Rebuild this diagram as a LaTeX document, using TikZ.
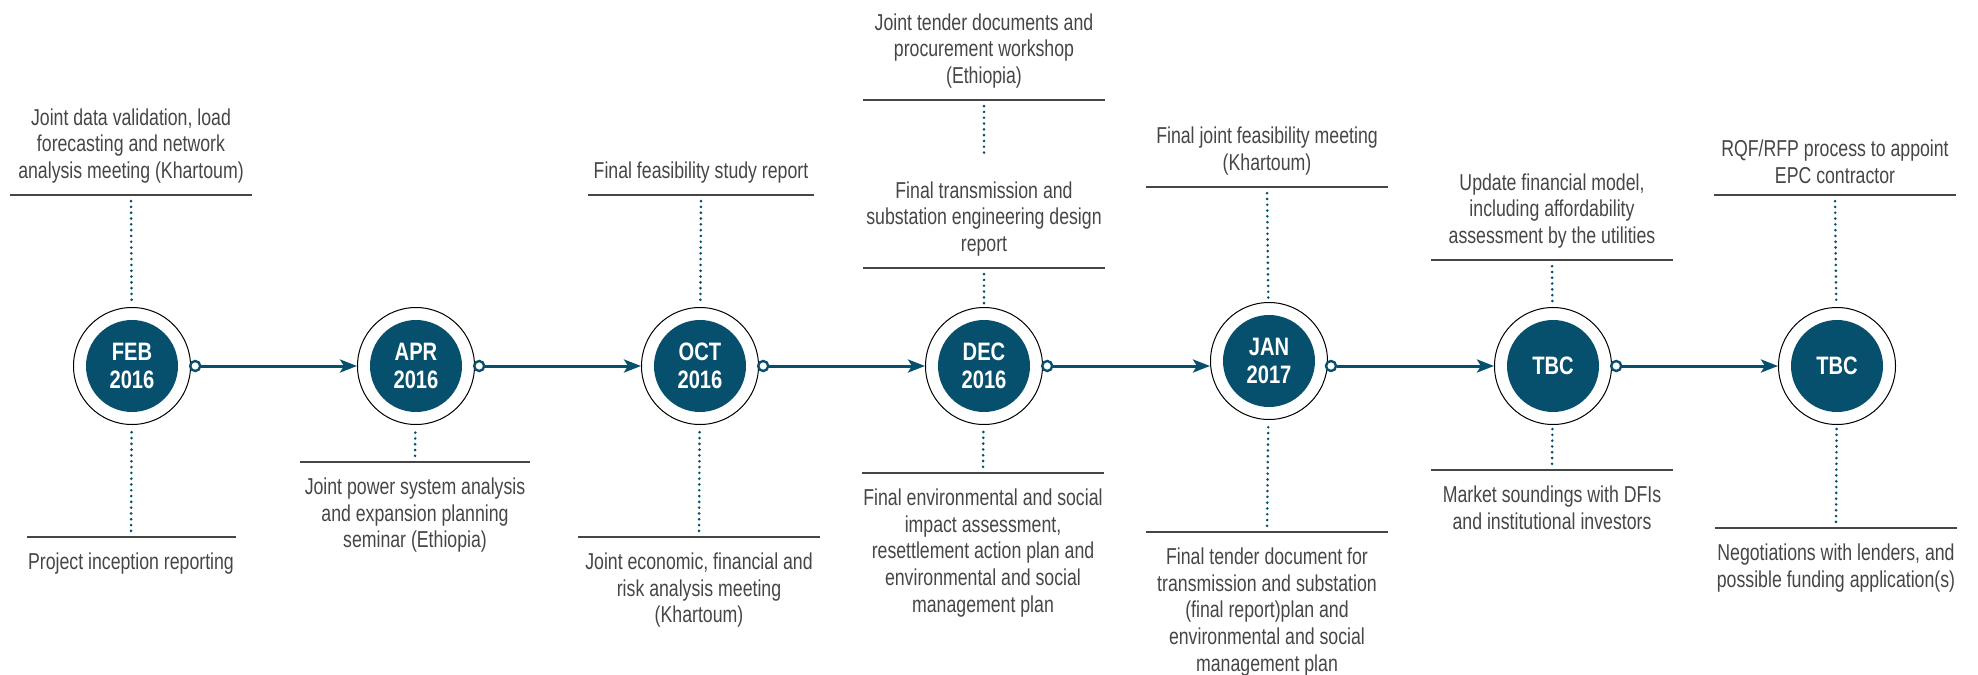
\documentclass[tikz,border=0pt]{standalone}
\usepackage{fontspec}
\setmainfont{Liberation Sans}[FakeStretch=0.77]
\newfontfamily\datefamily{Liberation Sans}[FakeStretch=0.8]
\usetikzlibrary{positioning, arrows.meta}
\definecolor{petrol}{RGB}{6,80,109}
\definecolor{textgray}{RGB}{70,70,70}
\definecolor{rulegray}{RGB}{70,70,70}
\newcommand\labelfont{\fontsize{11.5}{13.4}\selectfont}
\newcommand\datefont{\datefamily\bfseries\fontsize{12.6}{13.9}\selectfont}

\begin{document}
\begin{tikzpicture}[x=0.5pt, y=-0.5pt,
    date/.style={circle,
        draw=black,
        line width=0.5pt,
        fill=white,
        minimum size=58.5pt,
        inner sep=0pt,
        align=center,
        text=white,
        font=\datefont,
        path picture={\fill[petrol] (path picture bounding box.center) circle (23pt);}
        },
    start_dot/.style={circle,
        draw=petrol,
        fill=white,
        line width=1.2pt,
        minimum size=5pt,
        inner sep=0pt,
        },
    flow/.style={petrol,
        line width=1.5pt,
        -{Stealth[length=8.5pt, width=6.5pt, inset=2pt]},
        },
    bar/.style={rectangle,
        fill=rulegray,
        minimum width=121pt,
        minimum height=0.75pt,
        inner sep=0pt,
        },
    txt/.style={align=center,
        inner sep=0pt,
        text=textgray,
        font=\labelfont,
        },
    dots/.style={petrol,
        line width=1.45pt,
        line cap=round,
        dash pattern=on 0pt off 2.9pt,
        shorten <=2.5pt,
        shorten >=1pt,
        },
    ]
    \useasboundingbox (0,0) rectangle (1978,675);

    % milestones
    \node[date] (n_feb) at (132,366) {FEB\\2016};
    \node[date] (n_apr) at (416,366) {APR\\2016};
    \node[date] (n_oct) at (700,366) {OCT\\2016};
    \node[date] (n_dec) at (984,366) {DEC\\2016};
    \node[date] (n_jan) at (1269,361) {JAN\\2017};
    \node[date] (n_tbc1) at (1553,366) {TBC};
    \node[date] (n_tbc2) at (1837,366) {TBC};

    \node[start_dot, right=-1pt of n_feb] (d_feb) {};
    \node[start_dot, right=-1pt of n_apr] (d_apr) {};
    \node[start_dot, right=-1pt of n_oct] (d_oct) {};
    \node[start_dot, right=-1pt of n_dec] (d_dec) {};
    \node[start_dot] (d_jan) at (1331,366) {};
    \node[start_dot, right=-1pt of n_tbc1] (d_tbc1) {};

    \draw[flow] (d_feb) -- (n_apr);
    \draw[flow] (d_apr) -- (n_oct);
    \draw[flow] (d_oct) -- (n_dec);
    \draw[flow] (d_dec) -- (n_jan.west |- d_dec);
    \draw[flow] (d_jan) -- (n_tbc1);
    \draw[flow] (d_tbc1) -- (n_tbc2);

    % rules above
    \node[bar] (r_feb_t) at (131,195) {};
    \node[bar, minimum width=113pt] (r_oct_t) at (701,195) {};
    \node[bar] (r_dec_t1) at (984,100) {};
    \node[bar] (r_dec_t2) at (984,268) {};
    \node[bar] (r_jan_t) at (1267,187) {};
    \node[bar] (r_tbc1_t) at (1552,260) {};
    \node[bar] (r_tbc2_t) at (1835,195) {};

    % rules below
    \node[bar, minimum width=104.5pt] (r_feb_b) at (131,537) {};
    \node[bar, minimum width=115pt] (r_apr_b) at (415,462) {};
    \node[bar] (r_oct_b) at (699,537) {};
    \node[bar] (r_dec_b) at (983,473) {};
    \node[bar] (r_jan_b) at (1267,532) {};
    \node[bar] (r_tbc1_b) at (1552,470) {};
    \node[bar] (r_tbc2_b) at (1836,528) {};

    % texts above
    \node[txt, above=5pt of r_feb_t] (t_feb_t) {Joint data validation, load\\forecasting and network\\analysis meeting (Khartoum)};
    \node[txt, above=5pt of r_oct_t] (t_oct_t) {Final feasibility study report};
    \node[txt, above=5pt of r_dec_t1] (t_dec_t1) {Joint tender documents and\\procurement workshop\\(Ethiopia)};
    \node[txt, above=5pt of r_dec_t2] (t_dec_t2) {Final transmission and\\substation engineering design\\report};
    \node[txt, above=5pt of r_jan_t] (t_jan_t) {Final joint feasibility meeting\\(Khartoum)};
    \node[txt, above=5pt of r_tbc1_t] (t_tbc1_t) {Update financial model,\\including affordability\\assessment by the utilities};
    \node[txt, above=5pt of r_tbc2_t] (t_tbc2_t) {RQF/RFP process to appoint\\EPC contractor};

    % texts below
    \node[txt, below=7pt of r_feb_b] (t_feb_b) {Project inception reporting};
    \node[txt, below=7pt of r_apr_b] (t_apr_b) {Joint power system analysis\\and expansion planning\\seminar (Ethiopia)};
    \node[txt, below=7pt of r_oct_b] (t_oct_b) {Joint economic, financial and\\risk analysis meeting\\(Khartoum)};
    \node[txt, below=7pt of r_dec_b] (t_dec_b) {Final environmental and social\\impact assessment,\\resettlement action plan and\\environmental and social\\management plan};
    \node[txt, below=7pt of r_jan_b] (t_jan_b) {Final tender document for\\transmission and substation\\(final report)plan and\\environmental and social\\management plan};
    \node[txt, below=7pt of r_tbc1_b] (t_tbc1_b) {Market soundings with DFIs\\and institutional investors};
    \node[txt, below=7pt of r_tbc2_b] (t_tbc2_b) {Negotiations with lenders, and\\possible funding application(s)};

    % dotted leaders
    \draw[dots] (r_feb_t) -- (n_feb);
    \draw[dots] (r_oct_t) -- (n_oct);
    \draw[dots, shorten >=14pt] (r_dec_t1) -- (t_dec_t2);
    \draw[dots] (r_dec_t2) -- (n_dec);
    \draw[dots] (r_jan_t) -- (n_jan);
    \draw[dots] (r_tbc1_t) -- (n_tbc1);
    \draw[dots] (r_tbc2_t) -- (n_tbc2);

    \draw[dots] (r_feb_b) -- (n_feb);
    \draw[dots] (r_apr_b) -- (n_apr);
    \draw[dots] (r_oct_b) -- (n_oct);
    \draw[dots] (r_dec_b) -- (n_dec);
    \draw[dots] (r_jan_b) -- (n_jan);
    \draw[dots] (r_tbc1_b) -- (n_tbc1);
    \draw[dots] (r_tbc2_b) -- (n_tbc2);

\end{tikzpicture}
\end{document}
